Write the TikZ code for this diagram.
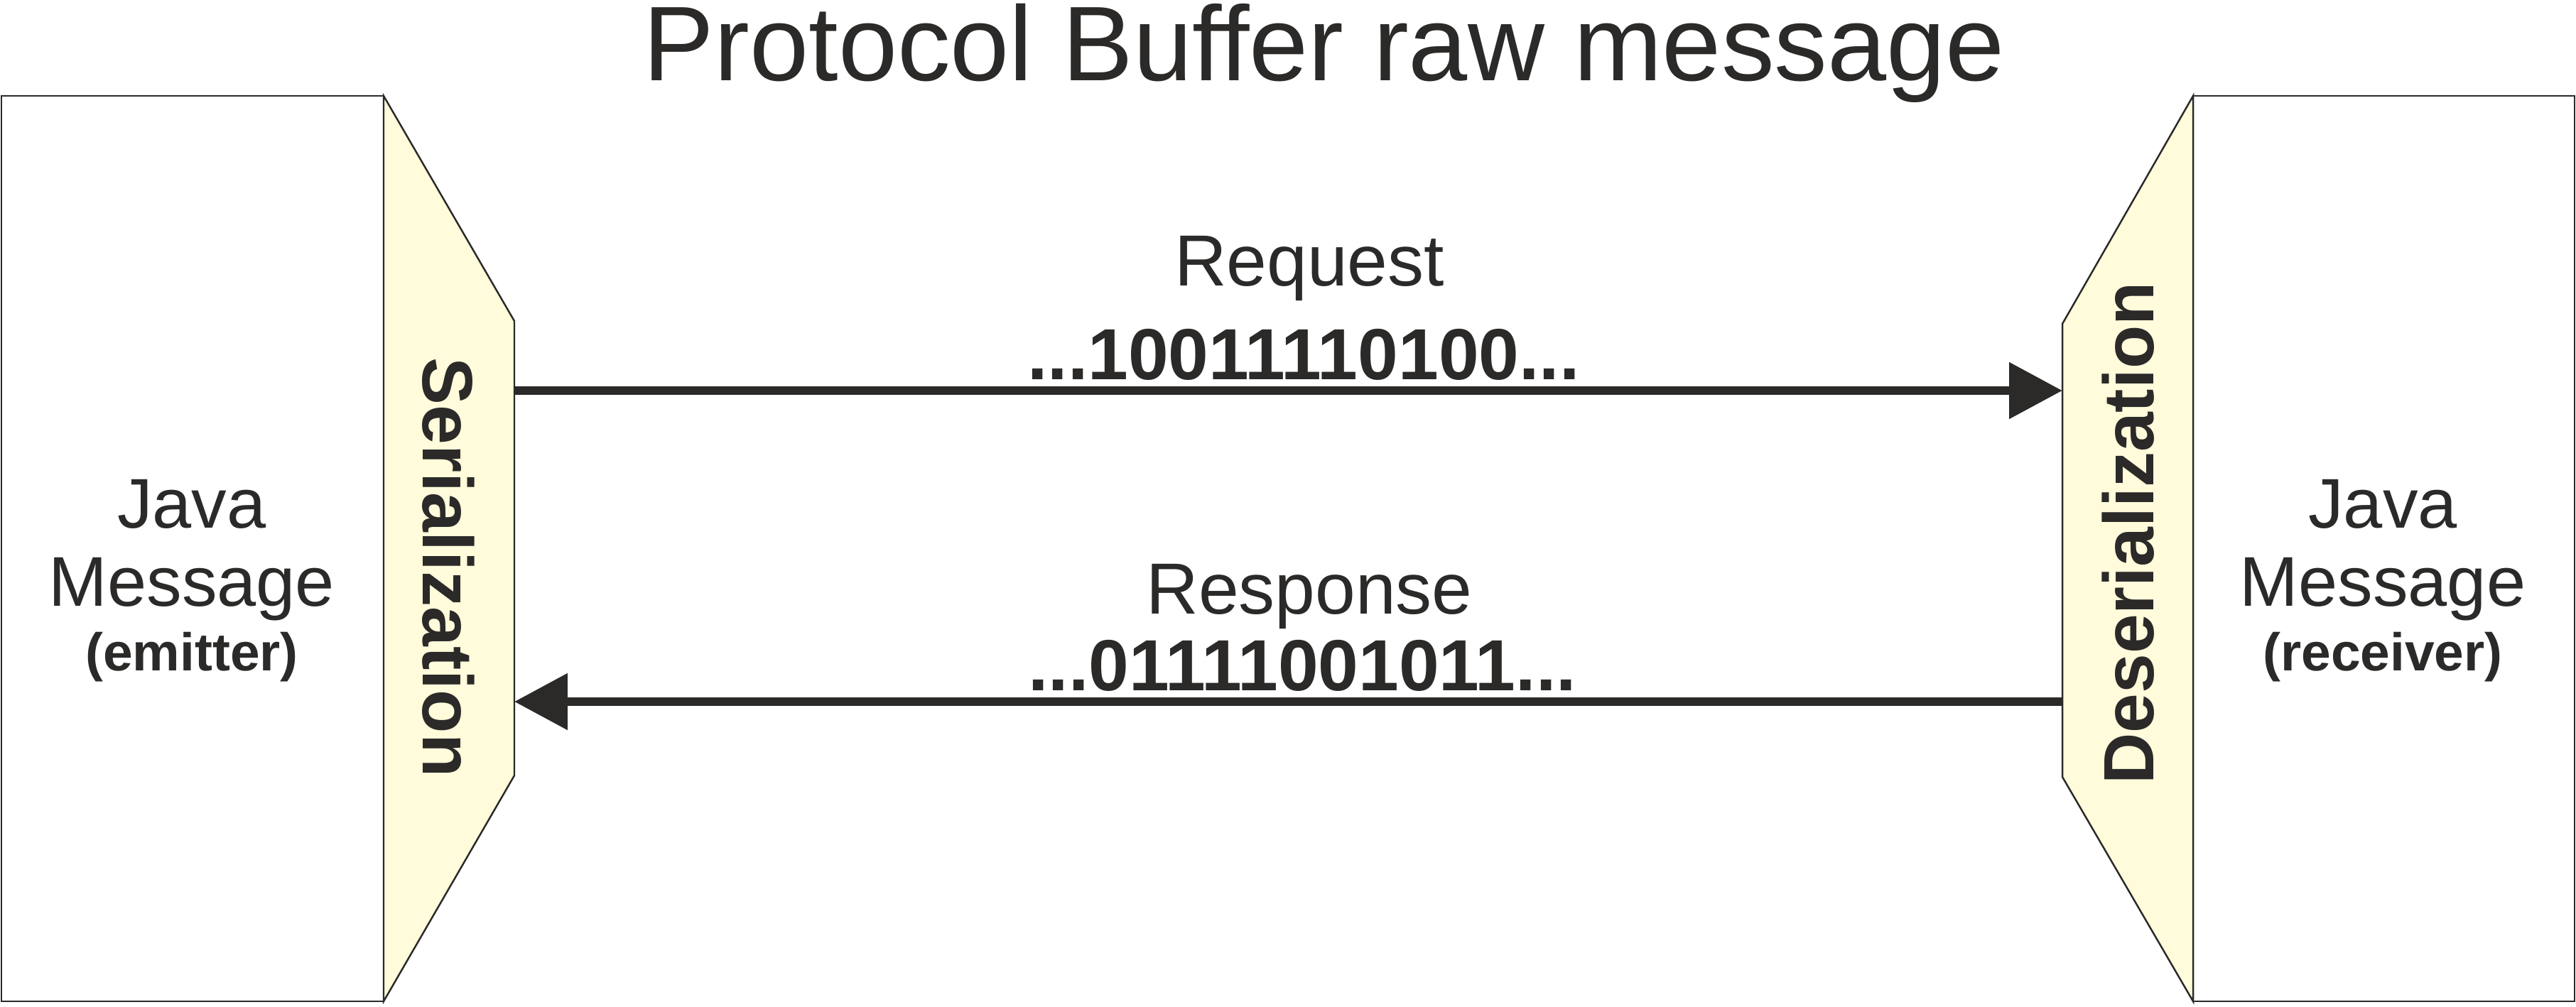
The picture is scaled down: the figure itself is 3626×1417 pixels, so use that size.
\documentclass[tikz,border=0pt]{standalone}
\usepackage{fontspec}
\setmainfont{Liberation Sans}
\usetikzlibrary{arrows.meta}
\definecolor{ink}{HTML}{2B2A29}
\definecolor{pale}{RGB}{255,251,219}
\begin{document}
\begin{tikzpicture}[x=0.01cm,y=-0.01cm,
  boxline/.style={draw=ink,line width=0.7pt},
  flow/.style={draw=ink,line width=3.4pt,-{Triangle[length=21.3pt,width=21.9pt]}},
  lbl/.style={text=ink,inner sep=0pt,anchor=base},
  titlefont/.style={font=\fontsize{42.5pt}{48pt}\selectfont},
  midfont/.style={font=\fontsize{29pt}{34pt}\selectfont},
  codefont/.style={font=\fontsize{29pt}{34pt}\selectfont\bfseries},
  javafont/.style={font=\fontsize{28.2pt}{33pt}\selectfont},
  rolefont/.style={font=\fontsize{21.3pt}{25pt}\selectfont\bfseries},
  sidefont/.style={font=\fontsize{28.5pt}{33pt}\selectfont\bfseries},
]
\useasboundingbox (0,0) rectangle (3626,1417);
\fill[white] (0,0) rectangle (3626,1417);
% left side
\draw[boxline,fill=white] (2,135) rectangle (540,1410);
\draw[boxline,fill=pale] (540,135) -- (724,452) -- (724,1092) -- (540,1410) -- cycle;
% right side
\draw[boxline,fill=white] (3087,135) rectangle (3624,1410);
\draw[boxline,fill=pale] (3087,135) -- (2903,456) -- (2903,1094) -- (3087,1410) -- cycle;
% connector ends
\coordinate (serTop) at (724,550);
\coordinate (desTop) at (2903,550);
\coordinate (serBot) at (724,988);
\coordinate (desBot) at (2903,988);
\draw[flow] (serTop) -- (desTop);
\draw[flow] (desBot) -- (serBot);
% texts
\node[lbl,titlefont] (title) at (1864,113) {Protocol Buffer raw message};
\node[lbl,midfont] (req) at (1843,402) {Request};
\node[lbl,codefont] (reqcode) at (1835,534) {...10011110100...};
\node[lbl,midfont] (resp) at (1843,864) {Response};
\node[lbl,codefont] (respcode) at (1833,972) {...01111001011...};
\node[lbl,javafont] (jl1) at (270,743) {Java};
\node[lbl,javafont] (jl2) at (270,853) {Message};
\node[lbl,rolefont] (jl3) at (270,944) {(emitter)};
\node[lbl,javafont] (jr1) at (3354,743) {Java};
\node[lbl,javafont] (jr2) at (3354,853) {Message};
\node[lbl,rolefont] (jr3) at (3354,944) {(receiver)};
\node[lbl,sidefont,rotate=-90] (ser) at (595,799) {Serialization};
\node[lbl,sidefont,rotate=90] (des) at (3031,751) {Deserialization};
\end{tikzpicture}
\end{document}
